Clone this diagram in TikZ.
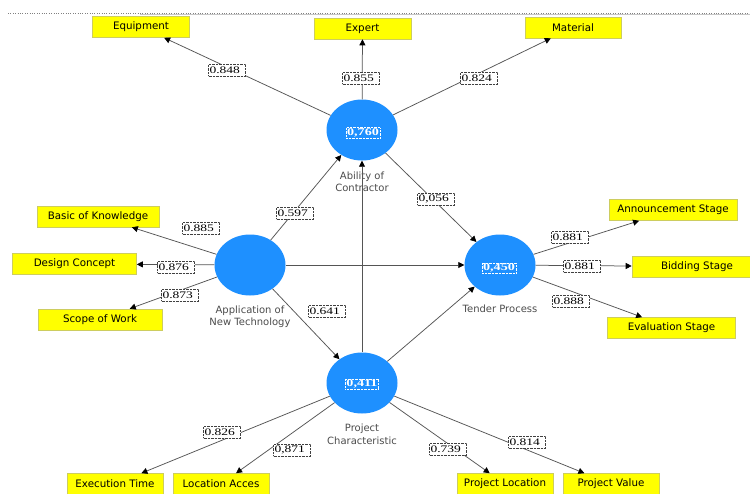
\documentclass[tikz,border=0pt]{standalone}
\usepackage{fontspec}
\newfontfamily\indfont{DejaVu Sans}
\newfontfamily\valfont[FakeStretch=1.35]{Liberation Serif}
\usetikzlibrary{arrows.meta,shapes.geometric}
\definecolor{lvblue}{RGB}{30,144,255}
\definecolor{indyellow}{RGB}{255,255,0}
\definecolor{indedge}{RGB}{205,205,95}
\definecolor{lngray}{RGB}{85,85,85}
\tikzset{
  latent/.style={ellipse,fill=lvblue,minimum width=71pt,minimum height=61pt,inner sep=0pt},
  indbox/.style={rectangle,fill=indyellow,draw=indedge,line width=0.6pt,minimum height=21pt,
    inner sep=0pt,font=\indfont\fontsize{10.3}{12}\selectfont},
  lvname/.style={font=\indfont\fontsize{10}{12.5}\selectfont,text=black!70,align=center},
  coef/.style={draw=black!75,densely dotted,fill=white,inner sep=1pt,minimum height=12pt,
    text width=35pt,align=left,font=\valfont\fontsize{10}{10}\selectfont},
  rsq/.style={draw=white,densely dotted,text=white,inner sep=1pt,
    font=\valfont\bfseries\fontsize{10.5}{11}\selectfont},
  arr/.style={draw=lngray,line width=0.75pt,-{Triangle[length=6pt,width=6pt,color=black]}}
}
\begin{document}
\begin{tikzpicture}[x=1pt,y=-1pt]
  \useasboundingbox (0,0) rectangle (750,493);
  \fill[white] (0,0) rectangle (750,493);
  % frame line at the top
  \draw[gray,dotted] (8,13)--(750,13);
  \draw[gray!45] (140,14.5)--(750,14.5);

  % latent variables
  \node[latent] (abl) at (362,130) {};
  \node[latent] (ant) at (250,265) {};
  \node[latent] (tnd) at (500,265) {};
  \node[latent] (prj) at (362,383) {};
  \node[lvname] (ablname) at (362,182) {Ability of\\Contractor};
  \node[lvname] (antname) at (250,316.5) {Application of\\New Technology};
  \node[lvname] (tndname) at (500,309) {Tender Process};
  \node[lvname] (prjname) at (362,434.5) {Project\\Characteristic};

  % indicators
  \node[indbox,minimum width=97pt] (equip) at (141,27) {Equipment};
  \node[indbox,minimum width=97pt] (expert) at (362.5,28.5) {Expert};
  \node[indbox,minimum width=96pt] (matrl) at (573,27.5) {Material};
  \node[indbox,minimum width=122pt] (basic) at (98,216.5) {Basic of Knowledge};
  \node[indbox,minimum width=124pt] (design) at (74.5,264) {Design Concept};
  \node[indbox,minimum width=124pt] (scope) at (100,319.5) {Scope of Work};
  \node[indbox,minimum width=128pt] (annc) at (673,210) {Announcement Stage};
  \node[indbox,minimum width=130pt] (bidd) at (697,266.5) {Bidding Stage};
  \node[indbox,minimum width=128pt] (evals) at (671.5,328) {Evaluation Stage};
  \node[indbox,minimum width=96pt] (exect) at (115,484) {Execution Time};
  \node[indbox,minimum width=96pt] (locac) at (221,484) {Location Acces};
  \node[indbox,minimum width=96pt] (prjloc) at (505,484) {Project Location};
  \node[indbox,minimum width=96pt] (prjval) at (611,484) {Project Value};

  % inner model
  \draw[arr] (ant)--(abl);
  \draw[arr] (ant)--(tnd);
  \draw[arr] (ant)--(prj);
  \draw[arr] (prj)--(abl);
  \draw[arr] (prj)--(tnd);
  \draw[arr] (abl)--(tnd);

  % outer model
  \foreach \lv/\ind in {abl/equip,abl/expert,abl/matrl,ant/basic,ant/design,ant/scope,
    tnd/annc,tnd/bidd,tnd/evals,prj/exect,prj/locac,prj/prjloc,prj/prjval}
    \draw[arr] (\lv)--(\ind);

  % path coefficients and loadings
  \node[coef] (c848) at (227,70) {0.848};
  \node[coef] (c855) at (361,78) {0.855};
  \node[coef] (c824) at (479,78) {0.824};
  \node[coef] (c597) at (295,213) {0.597};
  \node[coef] (c056) at (436,199) {0,056};
  \node[coef] (c885) at (201,228) {0.885};
  \node[coef] (c876) at (176,267) {0.876};
  \node[coef] (c873) at (180,295) {0.873};
  \node[coef] (c641) at (327,311) {0.641};
  \node[coef] (c881a) at (570,237) {0.881};
  \node[coef] (c881b) at (582,266) {0.881};
  \node[coef] (c888) at (571,301) {0.888};
  \node[coef] (c826) at (222,432) {0.826};
  \node[coef] (c871) at (292,450) {0,871};
  \node[coef] (c739) at (448,449) {0.739};
  \node[coef] (c814) at (527,442) {0.814};

  % R square values
  \node[rsq] (r760) at (363,133) {0,760};
  \node[rsq] (r450) at (499,268) {0,450};
  \node[rsq] (r411) at (362,384) {0,411};
\end{tikzpicture}
\end{document}
